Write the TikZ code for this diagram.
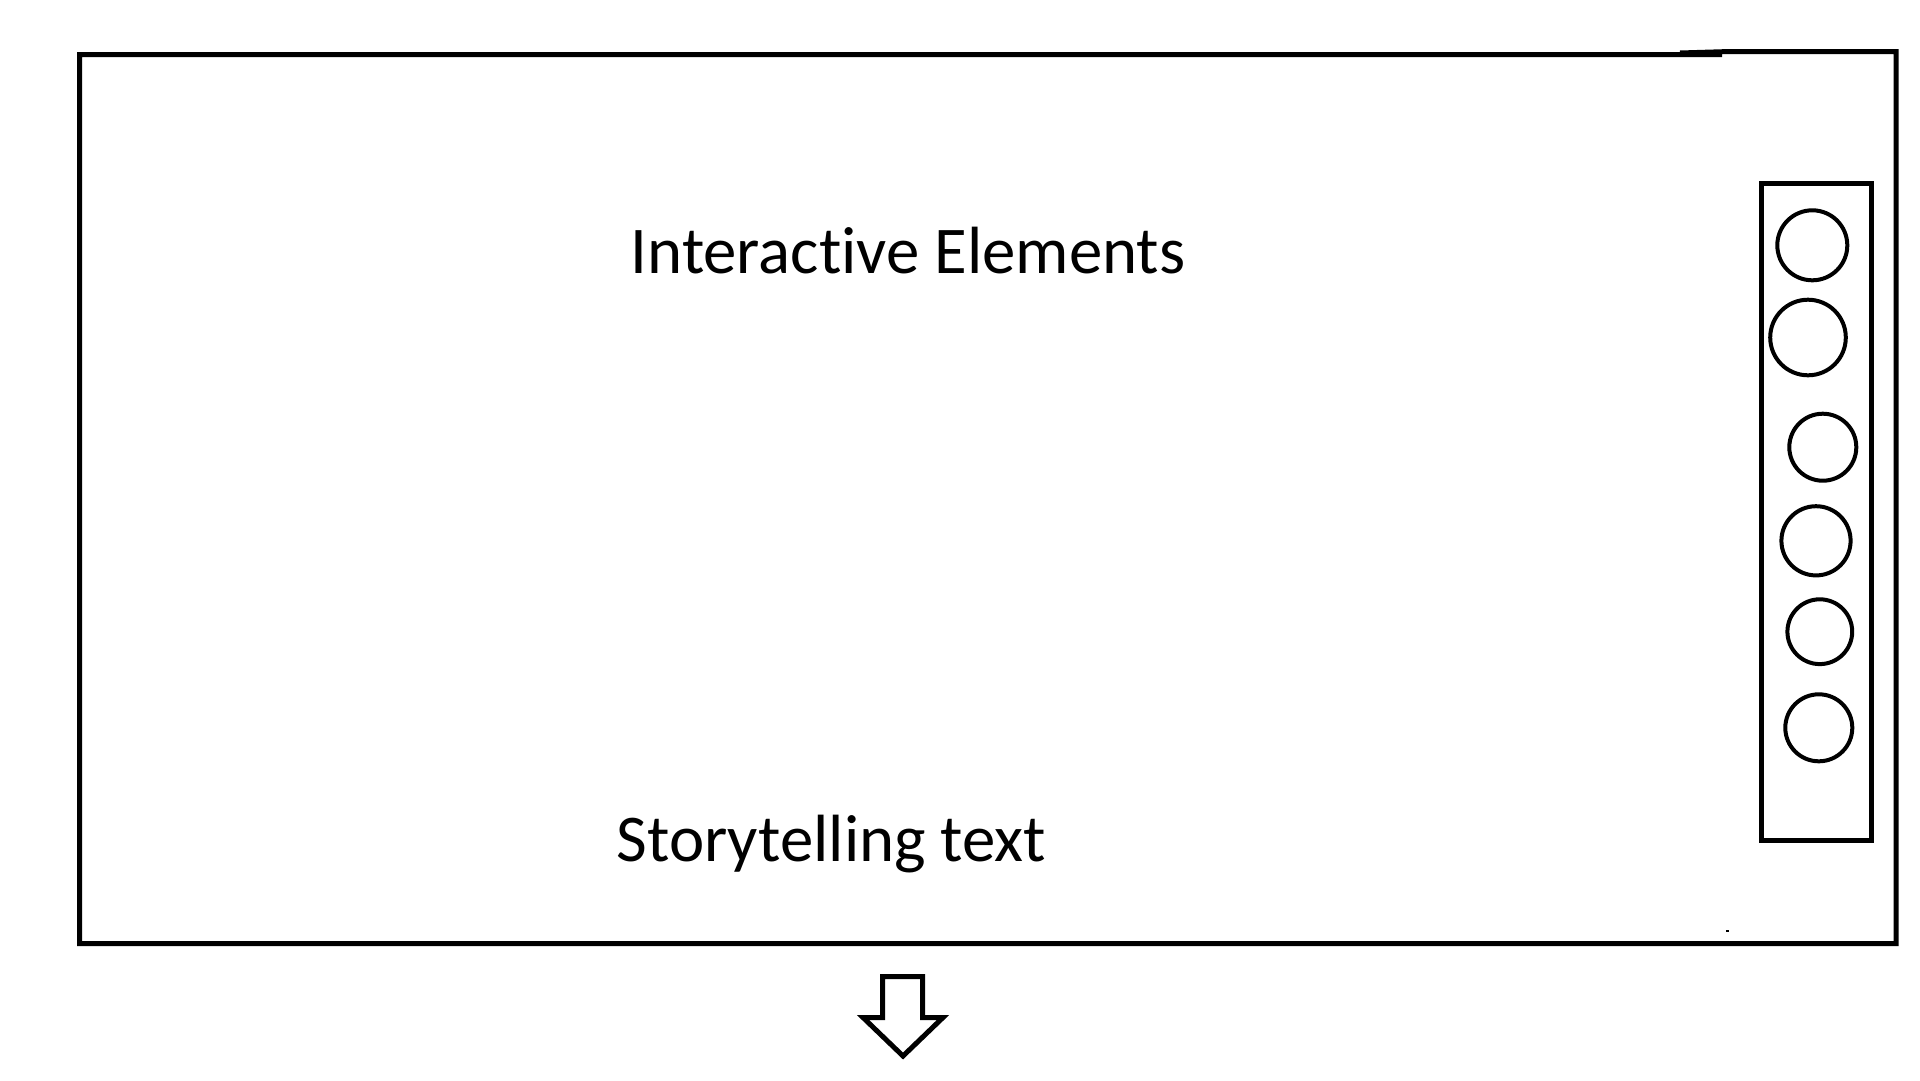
\documentclass[tikz,border=0pt]{standalone}
\usepackage{fontspec}
\setmainfont[Ligatures={NoCommon}]{Carlito}
\begin{document}
\begin{tikzpicture}[x=1pt,y=-1pt,
  frameline/.style={line width=5pt,line join=miter},
  panelbox/.style={draw,line width=5pt,rectangle,inner sep=0pt},
  knob/.style={draw,line width=4pt,circle,inner sep=0pt},
  caption/.style={font=\fontsize{66.8}{70}\selectfont,inner sep=0pt,anchor=base west}]
\useasboundingbox[fill=white] (0,0) rectangle (1920,1080);

% outer screen frame (top edge meets with a slight step near the right)
\draw[frameline] (1680,53) -- (1730,51.5) -- (1896,51.5) -- (1896,943.5)
  -- (79.5,943.5) -- (79.5,54.5) -- (1722,54.5);
\fill (1726,930) rectangle (1729,932);

% captions
\node[caption] (inter) at (630.5,273) {Interactive Elements};
\node[caption] (story) at (616.5,861) {Storytelling text};

% side panel with round buttons
\node[panelbox,minimum width=110pt,minimum height=657pt] (panel) at (1816.7,512) {};
\node[knob,minimum size=70pt] (b1) at (1812.3,245.3) {};
\node[knob,minimum size=75.6pt] (b2) at (1808,337.5) {};
\node[knob,minimum size=67pt] (b3) at (1822.8,447.2) {};
\node[knob,minimum size=69.2pt] (b4) at (1816,540.8) {};
\node[knob,minimum size=64.8pt] (b5) at (1819.8,631.7) {};
\node[knob,minimum size=67pt] (b6) at (1818.8,727.8) {};

% hollow down arrow below the frame
\draw[line width=5pt,line join=miter] (882.5,976.5) -- (922.5,976.5) -- (922.5,1017.5)
  -- (943,1017.5) -- (903,1056) -- (863,1017.5) -- (882.5,1017.5) -- cycle;
\end{tikzpicture}
\end{document}
